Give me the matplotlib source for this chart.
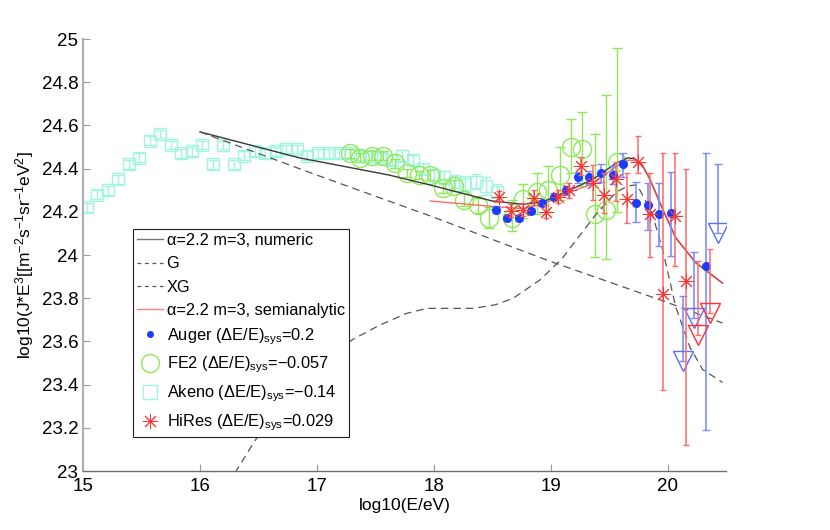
import numpy as np
import matplotlib
matplotlib.use('Agg')
import matplotlib.pyplot as plt

params = {
    'font.family': ['Liberation Sans', 'DejaVu Sans'],
    'font.size': 13,
    'mathtext.default': 'regular',
}
matplotlib.rcParams.update(params)

# model curves
numeric_x = [16.0, 16.85, 17.62, 18.0, 18.5, 18.76, 18.93, 19.10, 19.36, 19.56, 19.66, 19.72,
             19.78, 19.85, 19.96, 20.07, 20.24, 20.47]
numeric_y = [24.57, 24.45, 24.37, 24.32, 24.25, 24.235, 24.245, 24.285, 24.35, 24.425, 24.45, 24.445,
             24.42, 24.35, 24.21, 24.08, 23.965, 23.87]
semi_x = [17.97, 18.5, 18.76, 18.93, 19.16, 19.36, 19.56, 19.67, 19.74,
          19.78, 19.85, 19.96, 20.07, 20.24, 20.47]
semi_y = [24.25, 24.225, 24.215, 24.235, 24.29, 24.33, 24.41, 24.44, 24.435,
          24.42, 24.35, 24.21, 24.08, 23.965, 23.87]
g_x = [16.0, 17.0, 18.0, 19.0, 20.0, 20.47]
g_y = [24.57, 24.37, 24.175, 23.97, 23.78, 23.685]
xg_x = [16.25, 16.31, 16.47, 16.9, 17.31, 17.54, 17.77, 17.94, 18.34, 18.53, 18.68, 18.91, 19.10,
        19.22, 19.39, 19.56, 19.66, 19.74, 19.87, 19.96, 20.07, 20.19, 20.30, 20.47]
xg_y = [22.94, 23.0, 23.14, 23.45, 23.61, 23.676, 23.73, 23.753, 23.753, 23.77, 23.80, 23.885, 23.985,
        24.07, 24.19, 24.29, 24.32, 24.325, 24.19, 24.02, 23.76, 23.575, 23.47, 23.41]

# Auger
auger_x = [18.53, 18.63, 18.73, 18.83, 18.93, 19.03, 19.13, 19.23, 19.33, 19.43, 19.53, 19.62,
           19.73, 19.83, 19.93, 20.03, 20.33]
auger_y = [24.21, 24.17, 24.17, 24.205, 24.24, 24.27, 24.30, 24.36, 24.36, 24.38, 24.37, 24.42,
           24.24, 24.23, 24.19, 24.195, 23.95]
auger_lo = [0.015, 0.012, 0.012, 0.012, 0.012, 0.015, 0.02, 0.025, 0.03, 0.04, 0.04, 0.06,
            0.085, 0.115, 0.15, 0.20, 0.76]
auger_hi = [0.015, 0.012, 0.012, 0.012, 0.012, 0.015, 0.02, 0.025, 0.03, 0.04, 0.04, 0.05,
            0.10, 0.105, 0.145, 0.19, 0.52]
auger_ul_x = [20.13, 20.23, 20.43]
auger_ul_y = [23.51, 23.71, 24.10]
auger_ul_top = [23.81, 24.015, 24.42]

# FE2
fe2_x = [17.28, 17.37, 17.47, 17.57, 17.67, 17.77, 17.87, 17.97, 18.08, 18.17, 18.26, 18.38, 18.47,
         18.67, 18.76, 18.88, 18.98, 19.08, 19.17, 19.27, 19.38, 19.47, 19.57]
fe2_y = [24.47, 24.45, 24.46, 24.46, 24.425, 24.38, 24.37, 24.37, 24.31, 24.32, 24.255, 24.23, 24.17,
         24.17, 24.26, 24.29, 24.30, 24.37, 24.50, 24.49, 24.19, 24.21, 24.43]
fe2_lo = [0.02, 0.02, 0.02, 0.02, 0.02, 0.02, 0.02, 0.025, 0.025, 0.025, 0.03, 0.035, 0.045,
          0.06, 0.09, 0.10, 0.10, 0.115, 0.12, 0.17, 0.20, 0.23, 0.23]
fe2_hi = [0.02, 0.02, 0.02, 0.02, 0.02, 0.02, 0.02, 0.025, 0.025, 0.025, 0.03, 0.035, 0.05,
          0.085, 0.07, 0.09, 0.11, 0.13, 0.13, 0.17, 0.37, 0.53, 0.53]

# Akeno
akeno_x = [15.03, 15.12, 15.21, 15.30, 15.39, 15.48, 15.57, 15.66, 15.75, 15.84, 15.93, 16.02, 16.11,
           16.20, 16.29, 16.38, 16.47, 16.56, 16.65, 16.74, 16.83, 16.92, 17.01, 17.10, 17.19, 17.28,
           17.37, 17.46, 17.55, 17.64, 17.73, 17.82, 17.91, 18.00, 18.09, 18.18, 18.27, 18.36, 18.45,
           18.54]
akeno_y = [24.22, 24.28, 24.30, 24.35, 24.42, 24.45, 24.53, 24.56, 24.51, 24.47, 24.48, 24.51, 24.42,
           24.51, 24.42, 24.46, 24.48, 24.47, 24.48, 24.49, 24.49, 24.46, 24.47, 24.47, 24.47, 24.47,
           24.46, 24.46, 24.45, 24.44, 24.46, 24.44, 24.40, 24.37, 24.36, 24.34, 24.33, 24.34, 24.32,
           24.29]
akeno_err = [0.02] * 22 + [0.02, 0.02, 0.02, 0.02, 0.02, 0.02, 0.02, 0.025, 0.025, 0.025, 0.025,
                           0.03, 0.03, 0.03, 0.035, 0.035, 0.04, 0.04]

# HiRes
hires_x = [18.56, 18.66, 18.76, 18.86, 18.96, 19.06, 19.16, 19.26, 19.36, 19.46, 19.56, 19.65,
           19.75, 19.85, 19.96, 20.06, 20.16]
hires_y = [24.27, 24.205, 24.21, 24.265, 24.20, 24.27, 24.30, 24.41, 24.335, 24.28, 24.35, 24.26,
           24.43, 24.19, 23.82, 24.18, 23.88]
hires_lo = [0.025, 0.03, 0.03, 0.035, 0.03, 0.03, 0.035, 0.04, 0.08, 0.085, 0.10, 0.11,
            0.05, 0.20, 0.445, 0.23, 0.76]
hires_hi = [0.025, 0.03, 0.03, 0.035, 0.03, 0.03, 0.035, 0.045, 0.08, 0.10, 0.08, 0.12,
            0.12, 0.19, 0.65, 0.29, 0.52]
hires_ul_x = [20.26, 20.36]
hires_ul_y = [23.63, 23.73]
hires_ul_top = [23.97, 24.03]

c_auger = '#1a3cff'
c_auger_bar = '#7d8dff'
c_fe2 = '#8ee85a'
c_akeno = '#a0f5e0'
c_hires = '#ff3030'
c_hires_bar = '#ff6a6a'

fig = plt.figure(figsize=(8.3, 5.3), dpi=100)
ax = fig.add_axes([0.1, 0.1113, 0.7747, 0.8151])

# data points
ax.errorbar(akeno_x, akeno_y, yerr=akeno_err, fmt='none', ecolor=c_akeno, elinewidth=1, capsize=3.5)
ax.plot(akeno_x, akeno_y, 's', ms=8.5, mfc='none', mec=c_akeno, mew=1)
ax.errorbar(fe2_x, fe2_y, yerr=[fe2_lo, fe2_hi], fmt='none', ecolor=c_fe2, elinewidth=1, capsize=3.5)
ax.plot(fe2_x, fe2_y, 'o', ms=13, mfc='none', mec=c_fe2, mew=1)

ax.plot(numeric_x, numeric_y, '-', color='#3a3a3a', lw=1)
ax.plot(g_x, g_y, '--', color='#555555', lw=0.9, dashes=(6, 4))
ax.plot(xg_x, xg_y, '--', color='#555555', lw=0.9, dashes=(6, 4))
ax.plot(semi_x, semi_y, '-', color='#ff5050', lw=1, alpha=0.85)

ax.errorbar(auger_x, auger_y, yerr=[auger_lo, auger_hi], fmt='none', ecolor=c_auger_bar,
            elinewidth=1.2, capsize=3)
ax.plot(auger_x, auger_y, 'o', ms=5.5, color=c_auger, mec=c_auger)
ul_dn = [t - y for t, y in zip(auger_ul_top, auger_ul_y)]
ax.errorbar(auger_ul_x, auger_ul_y, yerr=[[0] * 3, ul_dn], fmt='none', ecolor=c_auger_bar,
            elinewidth=1.2, capsize=3)
ax.plot(auger_ul_x, auger_ul_y, 'v', ms=14, mfc='none', mec='#5570ff', mew=1)

ax.errorbar(hires_x, hires_y, yerr=[hires_lo, hires_hi], fmt='none', ecolor=c_hires_bar,
            elinewidth=1.1, capsize=2.5)
ax.plot(hires_x, hires_y, marker=(8, 2, 0), ls='none', ms=11, mec=c_hires, mew=0.7)
ul_dn = [t - y for t, y in zip(hires_ul_top, hires_ul_y)]
ax.errorbar(hires_ul_x, hires_ul_y, yerr=[[0] * 2, ul_dn], fmt='none', ecolor=c_hires_bar,
            elinewidth=1.1, capsize=2.5)
ax.plot(hires_ul_x, hires_ul_y, 'v', ms=14, mfc='none', mec=c_hires, mew=1)

# legend proxies
h = []
h.append(plt.Line2D([], [], color='#777777', lw=1))
h.append(plt.Line2D([], [], color='#555555', lw=0.9, ls='--', dashes=(3, 3)))
h.append(plt.Line2D([], [], color='#555555', lw=0.9, ls='--', dashes=(3, 3)))
h.append(plt.Line2D([], [], color='#ff8080', lw=1))
h.append(plt.Line2D([], [], ls='none', marker='o', ms=4, color=c_auger))
h.append(plt.Line2D([], [], ls='none', marker='o', ms=13, mfc='none', mec=c_fe2))
h.append(plt.Line2D([], [], ls='none', marker='s', ms=10, mfc='none', mec=c_akeno))
h.append(plt.Line2D([], [], ls='none', marker=(8, 2, 0), ms=11, mec=c_hires, mew=0.7))
labels = ['\u03b1=2.2 m=3, numeric', 'G', 'XG', '\u03b1=2.2 m=3, semianalytic',
          'Auger (\u0394E/E)$_{sys}$=0.2', 'FE2 (\u0394E/E)$_{sys}$=\u22120.057',
          'Akeno (\u0394E/E)$_{sys}$=\u22120.14', 'HiRes (\u0394E/E)$_{sys}$=0.029']
leg = ax.legend(h, labels, loc='upper left', bbox_to_anchor=(0.0778, 0.56), fontsize=11.8,
                frameon=True, fancybox=False, edgecolor='#222222', framealpha=1,
                handlelength=1.6, handletextpad=0.2, labelspacing=0.5, borderpad=0.25,
                borderaxespad=0)
leg.get_frame().set_linewidth(0.8)

ax.set_xlim(15, 20.5)
ax.set_ylim(23, 25)
ax.set_xticks(np.arange(15, 21, 1))
ax.set_yticks(np.arange(23, 25.01, 0.2))
ax.set_yticklabels(['%g' % round(v, 1) for v in np.arange(23, 25.01, 0.2)])
ax.tick_params(direction='in', length=5, color='#999999', labelsize=13.5)
ax.tick_params(axis='x', pad=5)
for s in ['top', 'right']:
    ax.spines[s].set_visible(False)
ax.spines['left'].set_color('#b0b0b0')
ax.spines['left'].set_linewidth(1.6)
ax.spines['bottom'].set_color('#707070')
ax.spines['bottom'].set_linewidth(1)

ax.set_xlabel('log10(E/eV)', fontsize=12.5, labelpad=2)
ax.set_ylabel('log10(J*E$^{3}$[[m$^{-2}$s$^{-1}$sr$^{-1}$eV$^{2}$]', fontsize=12.5, labelpad=4)

fig.savefig('out.png', dpi=100)
